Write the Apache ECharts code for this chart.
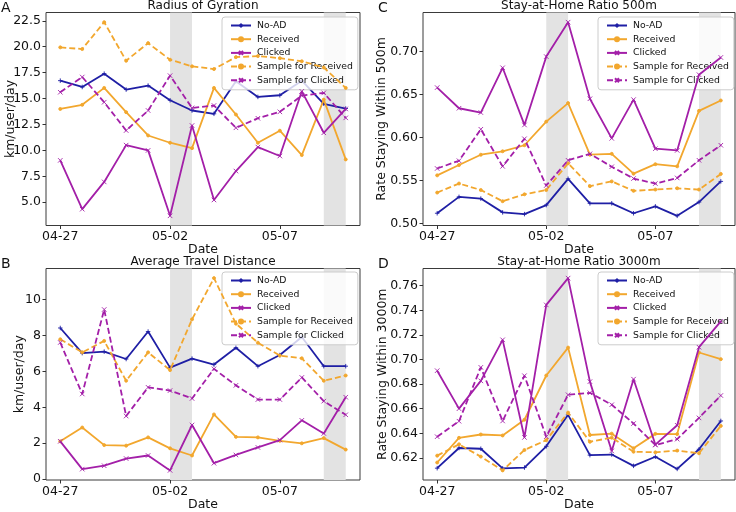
<!DOCTYPE html>
<html>
<head>
<meta charset="utf-8">
<script src="https://cdn.jsdelivr.net/npm/echarts@6/dist/echarts.min.js"></script>
<style>
  html, body { margin: 0; padding: 0; background: #fff; }
  #chart { width: 736px; height: 512px; }
</style>
</head>
<body>
<div id="chart"></div>
<script>
// dates on the x axis, one point per day
const dates = ['04-27', '04-28', '04-29', '04-30', '05-01', '05-02', '05-03',
  '05-04', '05-05', '05-06', '05-07', '05-08', '05-09', '05-10']
const xTickDates = ['04-27', '05-02', '05-07']
// weekend shading (from date, to date)
const shaded = [['05-02', '05-03'], ['05-09', '05-10']]

const seriesNames = ['No-AD', 'Received', 'Clicked', 'Sample for Received', 'Sample for Clicked']

// A: Radius of Gyration (km/user/day)
const rogNoAd = [16.73, 16.12, 17.4, 15.87, 16.25, 14.84, 13.85, 13.53, 16.67, 15.16, 15.32, 16.73, 14.5, 14.04]
const rogReceived = [14.0, 14.4, 16.03, 13.69, 11.44, 10.74, 10.22, 16.03, 13.46, 10.74, 11.9, 9.55, 14.9, 9.13]
const rogClicked = [9.04, 4.33, 6.96, 10.51, 10.0, 3.69, 12.4, 5.22, 8.01, 10.32, 9.46, 15.7, 11.7, 14.0]
const rogSampleReceived = [19.94, 19.78, 22.37, 18.65, 20.35, 18.75, 18.11, 17.85, 19.0, 19.1, 18.9, 18.6, 18.0, 16.03]
const rogSampleClicked = [15.61, 17.08, 14.65, 11.92, 13.85, 17.21, 14.1, 14.33, 12.18, 13.1, 13.72, 15.29, 15.55, 13.14]
const rogTicks = [5, 7.5, 10, 12.5, 15, 17.5, 20, 22.5]

// B: Average Travel Distance (km/user/day)
const atdNoAd = [8.42, 7.02, 7.1, 6.69, 8.22, 6.21, 6.71, 6.38, 7.32, 6.29, 6.91, 7.92, 6.29, 6.29]
const atdReceived = [2.1, 2.87, 1.89, 1.86, 2.32, 1.71, 1.31, 3.6, 2.35, 2.32, 2.13, 1.99, 2.28, 1.64]
const atdClicked = [2.1, 0.55, 0.74, 1.14, 1.31, 0.48, 3.01, 0.88, 1.34, 1.76, 2.17, 3.27, 2.54, 4.56]
const atdSampleReceived = [7.79, 7.06, 7.7, 5.48, 7.06, 6.07, 8.9, 11.2, 8.66, 7.6, 6.88, 6.73, 5.48, 5.77]
const atdSampleClicked = [7.61, 4.74, 9.45, 3.51, 5.11, 4.93, 4.49, 6.14, 5.22, 4.43, 4.43, 5.66, 4.34, 3.58]
const atdTicks = [0, 2, 4, 6, 8, 10]

// C: Stay-at-Home Ratio 500m
const s500NoAd = [0.512, 0.531, 0.529, 0.513, 0.511, 0.5215, 0.552, 0.5235, 0.5235, 0.512, 0.520, 0.509, 0.525, 0.549]
const s500Received = [0.556, 0.568, 0.580, 0.584, 0.591, 0.6185, 0.640, 0.580, 0.581, 0.558, 0.569, 0.5665, 0.631, 0.643]
const s500Clicked = [0.658, 0.634, 0.629, 0.681, 0.6146, 0.694, 0.734, 0.645, 0.599, 0.644, 0.587, 0.585, 0.673, 0.693]
const s500SampleReceived = [0.536, 0.5465, 0.539, 0.526, 0.534, 0.539, 0.570, 0.5435, 0.549, 0.538, 0.5395, 0.541, 0.5395, 0.5577]
const s500SampleClicked = [0.564, 0.573, 0.6096, 0.5665, 0.5985, 0.5442, 0.5735, 0.581, 0.566, 0.5523, 0.5465, 0.553, 0.5735, 0.591]
const s500Ticks = [0.50, 0.55, 0.60, 0.65, 0.70]

// D: Stay-at-Home Ratio 3000m
const s3000NoAd = [0.6116, 0.628, 0.6274, 0.6114, 0.6121, 0.6294, 0.655, 0.6222, 0.6227, 0.6135, 0.6209, 0.611, 0.627, 0.650]
const s3000Received = [0.6162, 0.6363, 0.639, 0.6382, 0.651, 0.687, 0.7097, 0.6386, 0.6397, 0.6278, 0.6395, 0.6393, 0.7057, 0.7003]
const s3000Clicked = [0.6909, 0.66, 0.6826, 0.716, 0.6366, 0.7444, 0.7662, 0.682, 0.6256, 0.684, 0.6308, 0.6465, 0.71, 0.731]
const s3000SampleReceived = [0.6218, 0.631, 0.621, 0.6098, 0.6264, 0.6344, 0.6568, 0.6331, 0.6364, 0.625, 0.6245, 0.6259, 0.6237, 0.646]
const s3000SampleClicked = [0.6372, 0.6498, 0.6936, 0.65, 0.6868, 0.6372, 0.6713, 0.6729, 0.6632, 0.6479, 0.6304, 0.6352, 0.6525, 0.6707]
const s3000Ticks = [0.62, 0.64, 0.66, 0.68, 0.70, 0.72, 0.74, 0.76]

const FONT = 'DejaVu Sans'
const BLUE = '#1f1fa5'
const ORANGE = '#f2a72e'
const PURPLE = '#a31fa8'
const PLUS = 'path://M5,0L5,10M0,5L10,5'
const CROSS = 'path://M0,0L10,10M10,0L0,10'

// look of each of the five lines
const styles = [
  { color: BLUE, dashed: false, symbol: PLUS, size: 4.5 },
  { color: ORANGE, dashed: false, symbol: 'circle', size: 3 },
  { color: PURPLE, dashed: false, symbol: CROSS, size: 4.5 },
  { color: ORANGE, dashed: true, symbol: 'circle', size: 3 },
  { color: PURPLE, dashed: true, symbol: CROSS, size: 4.5 }
]

const panels = [
  { letter: 'A', title: 'Radius of Gyration', yName: 'km/user/day', nameGap: 29,
    grid: { left: 46, top: 12.5, width: 314, height: 213 },
    values: [rogNoAd, rogReceived, rogClicked, rogSampleReceived, rogSampleClicked],
    ticks: rogTicks, digits: 1, legendLeft: 222, legendTop: 17 },
  { letter: 'C', title: 'Stay-at-Home Ratio 500m', yName: 'Rate Staying Within 500m', nameGap: 35,
    grid: { left: 423, top: 12.5, width: 312, height: 213 },
    values: [s500NoAd, s500Received, s500Clicked, s500SampleReceived, s500SampleClicked],
    ticks: s500Ticks, digits: 2, legendLeft: 598, legendTop: 17 },
  { letter: 'B', title: 'Average Travel Distance', yName: 'km/user/day', nameGap: 20,
    grid: { left: 46, top: 268.5, width: 314, height: 213 },
    values: [atdNoAd, atdReceived, atdClicked, atdSampleReceived, atdSampleClicked],
    ticks: atdTicks, digits: 0, legendLeft: 222, legendTop: 272 },
  { letter: 'D', title: 'Stay-at-Home Ratio 3000m', yName: 'Rate Staying Within 3000m', nameGap: 34,
    grid: { left: 423, top: 268.5, width: 312, height: 213 },
    values: [s3000NoAd, s3000Received, s3000Clicked, s3000SampleReceived, s3000SampleClicked],
    ticks: s3000Ticks, digits: 2, legendLeft: 598, legendTop: 272 }
]

const xTicks = xTickDates.map(d => dates.indexOf(d))
const bands = shaded.map(([a, b]) => [{ xAxis: dates.indexOf(a) }, { xAxis: dates.indexOf(b) }])

const grid = []
const xAxis = []
const yAxis = []
const series = []
const legend = []
const graphic = []

panels.forEach((p, k) => {
  grid.push(Object.assign({ show: true, borderColor: '#3a3a3a', borderWidth: 1 }, p.grid))

  xAxis.push({
    type: 'value', gridIndex: k, min: -0.65, max: dates.length - 1 + 0.65,
    name: 'Date', nameLocation: 'middle', nameGap: 18, nameMoveOverlap: false,
    nameTextStyle: { fontFamily: FONT, fontSize: 12.5, color: '#111' },
    axisLine: { show: false, onZero: false },
    axisTick: { show: true, length: 3.5, customValues: xTicks, lineStyle: { color: '#333' } },
    axisLabel: { customValues: xTicks, formatter: v => dates[v], fontFamily: FONT, fontSize: 12.5, color: '#111', margin: 5 },
    splitLine: { show: false }
  })

  // matplotlib-like 5% margins around the data
  const all = [].concat(...p.values)
  const lo = Math.min(...all)
  const hi = Math.max(...all)
  const pad = (hi - lo) * 0.05
  yAxis.push({
    type: 'value', gridIndex: k, min: lo - pad, max: hi + pad,
    name: p.yName, nameLocation: 'middle', nameGap: p.nameGap, nameRotate: 90, nameMoveOverlap: false,
    nameTextStyle: { fontFamily: FONT, fontSize: 12.5, color: '#111' },
    axisLine: { show: false, onZero: false },
    axisTick: { show: true, length: 3.5, customValues: p.ticks, lineStyle: { color: '#333' } },
    axisLabel: { customValues: p.ticks, formatter: v => v.toFixed(p.digits), fontFamily: FONT, fontSize: 12.5, color: '#111', margin: 5 },
    splitLine: { show: false }
  })

  // weekend bands
  series.push({
    type: 'line', xAxisIndex: k, yAxisIndex: k, data: [], z: 1, silent: true,
    markArea: { silent: true, itemStyle: { color: '#e3e3e3' }, data: bands }
  })

  p.values.forEach((vals, j) => {
    const s = styles[j]
    series.push({
      name: seriesNames[j], type: 'line', xAxisIndex: k, yAxisIndex: k, z: 2 + j,
      data: vals.map((v, i) => [i, v]),
      symbol: s.symbol, symbolSize: s.size, showSymbol: true,
      lineStyle: { color: s.color, width: 1.8, type: s.dashed ? [6, 3] : 'solid' },
      itemStyle: { color: s.color, borderColor: s.color, borderWidth: 0.9 },
      emphasis: { disabled: true }
    })
  })

  legend.push({
    data: seriesNames, orient: 'vertical', left: p.legendLeft, top: p.legendTop,
    itemWidth: 20, itemHeight: 5, itemGap: 2.7,
    padding: [3, 5, 4, 8],
    backgroundColor: 'rgba(255,255,255,0.8)', borderColor: '#cccccc', borderWidth: 1, borderRadius: 3,
    textStyle: { fontFamily: FONT, fontSize: 9.3, color: '#111', padding: [0, 0, 0, 1], lineHeight: 11 },
    selectedMode: false
  })

  const cx = p.grid.left + p.grid.width / 2
  graphic.push({
    type: 'text', x: cx, y: p.grid.top - 1,
    style: { text: p.title, font: '12px "DejaVu Sans"', fill: '#111', align: 'center', verticalAlign: 'bottom' }
  })
  graphic.push({
    type: 'text', x: p.grid.left - 45, y: p.grid.top + 2.5,
    style: { text: p.letter, font: '14px "DejaVu Sans"', fill: '#111', align: 'left', verticalAlign: 'bottom' }
  })
})

const chart = echarts.init(document.getElementById('chart'), null, { renderer: 'canvas' })
chart.setOption({
  animation: false,
  backgroundColor: '#fff',
  grid, xAxis, yAxis, series, legend, graphic
})
</script>
</body>
</html>
